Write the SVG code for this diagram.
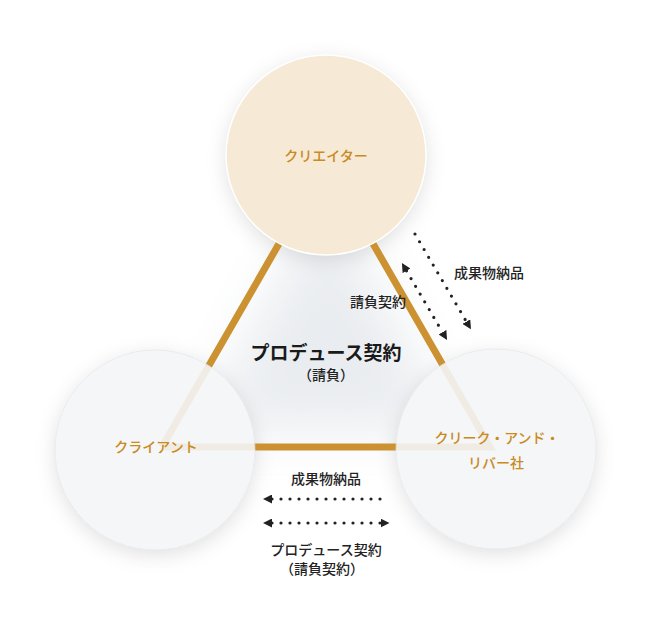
<svg xmlns="http://www.w3.org/2000/svg" width="670" height="624" viewBox="0 0 670 624">
<style>
.gold{fill:#c98a1e;font-family:"Noto Sans CJK JP","Noto Sans",sans-serif;font-size:14px;font-weight:500;text-anchor:middle;dominant-baseline:central}
.lbl{fill:#222;font-family:"Noto Sans CJK JP","Noto Sans",sans-serif;font-size:14px;font-weight:500;dominant-baseline:central}
.title{fill:#1a1a1a;font-family:"Noto Sans CJK JP","Noto Sans",sans-serif;font-size:19px;font-weight:700;text-anchor:middle;dominant-baseline:central}
.side{stroke:#cc9130;stroke-width:7;fill:none}
.dot{stroke:#222;stroke-width:3.2;stroke-linecap:round;stroke-dasharray:0 9;fill:none}
.light{fill:#f5f6f8;opacity:0.9}
</style>
<defs>
<filter id="blur" x="-50%" y="-50%" width="200%" height="200%"><feGaussianBlur stdDeviation="28"/></filter>
<filter id="sh" x="-30%" y="-30%" width="160%" height="160%"><feDropShadow dx="0" dy="5" stdDeviation="10" flood-color="#000" flood-opacity="0.12"/></filter>
<marker id="ah" viewBox="0 0 10 10" refX="0" refY="5" markerWidth="9" markerHeight="9" markerUnits="userSpaceOnUse" orient="auto-start-reverse"><path d="M0,0 L10,5 L0,10 z" fill="#222"/></marker>
</defs>
<rect width="670" height="624" fill="#fff"/>
<polygon points="326,190 200,430 452,430" fill="#e9ecf0" filter="url(#blur)"/>
<g id="shadows">
<circle cx="326" cy="155" r="100" fill="#fff" filter="url(#sh)"/>
<circle cx="155" cy="450" r="100" fill="#fff" filter="url(#sh)"/>
<circle cx="496" cy="449" r="100" fill="#fff" filter="url(#sh)"/>
</g>
<g id="connectors">
<polyline class="side" points="162,447 326,162 490,447 162,447"/>
<path class="dot" d="M415,234 L466.4,321.6" marker-end="url(#ah)"/>
<path class="dot" d="M406.5,270.8 L442.5,332.2" marker-start="url(#ah)" marker-end="url(#ah)"/>
<path class="dot" d="M272,499 L382.5,499" marker-start="url(#ah)"/>
<path class="dot" d="M272,523 L380.5,523" marker-start="url(#ah)" marker-end="url(#ah)"/>
</g>
<g id="creator">
<circle cx="326" cy="155" r="100" fill="#f6e9d5" stroke="#fff" stroke-width="1.5"/>
<text class="gold" x="326" y="155">クリエイター</text>
</g>
<g id="client">
<circle class="light" cx="155" cy="450" r="100" stroke="#e2e4e8" stroke-width="0.8"/>
<text class="gold" x="156" y="446">クライアント</text>
</g>
<g id="creek">
<circle class="light" cx="496" cy="449" r="100" stroke="#e2e4e8" stroke-width="0.8"/>
<text class="gold" x="497" y="437" font-size="15">クリーク・アンド・</text>
<text class="gold" x="496" y="462">リバー社</text>
</g>
<g id="labels">
<text class="title" x="326" y="351">プロデュース契約</text>
<text class="lbl" x="326" y="374" text-anchor="middle" font-size="16">（請負）</text>
<text class="lbl" x="454" y="272">成果物納品</text>
<text class="lbl" x="378" y="301" text-anchor="middle">請負契約</text>
<text class="lbl" x="326" y="478" text-anchor="middle">成果物納品</text>
<text class="lbl" x="326" y="549" text-anchor="middle" font-size="13.5">プロデュース契約</text>
<text class="lbl" x="322" y="568" text-anchor="middle" font-size="14.5">（請負契約）</text>
</g>
</svg>
